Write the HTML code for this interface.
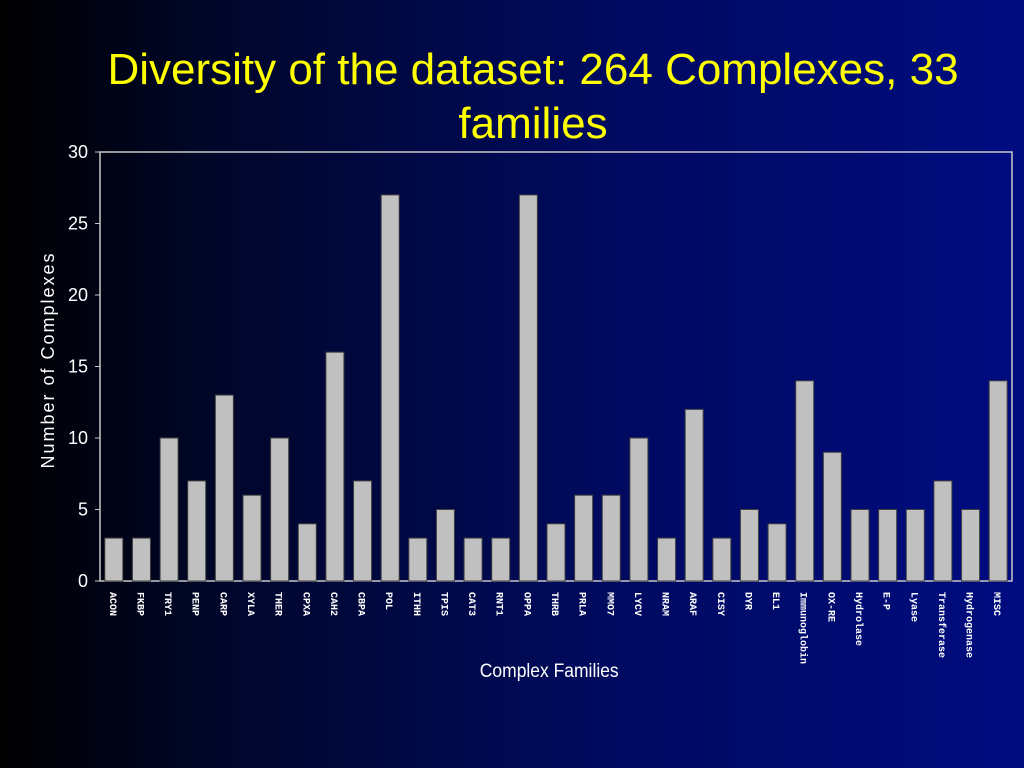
<!DOCTYPE html>
<html><head><meta charset="utf-8"><style>
body{margin:0;width:1024px;height:768px;overflow:hidden;background:linear-gradient(90deg,#000000 0%,#000628 20%,#000a60 60%,#000c80 100%);font-family:"Liberation Sans",sans-serif}
svg{position:absolute;left:0;top:0}
</style></head><body>
<svg width="1024" height="768">
<text x="533" y="84" fill="#ffff00" font-size="44" text-anchor="middle">Diversity of the dataset: 264 Complexes, 33</text>
<text x="533" y="138" fill="#ffff00" font-size="44" text-anchor="middle">families</text>
<rect x="100" y="152" width="912" height="429" fill="none" stroke="#c8c8c8" stroke-width="1.5"/>
<g id="yaxis"></g><g id="bars"></g><g id="xlabels"></g>
<text transform="translate(54,360) rotate(-90)" fill="#fff" font-size="18" text-anchor="middle" letter-spacing="2">Number of Complexes</text>
<text x="550" y="677" fill="#fff" font-size="19" text-anchor="middle" transform="scale(0.92,1) translate(47,0)">Complex Families</text>
</svg>
<script>
const categories=["ACON","FKBP","TRY1","PENP","CARP","XYLA","THER","CPXA","CAH2","CBPA","POL","ITHH","TPIS","CAT3","RNT1","OPPA","THRB","PRLA","MMO7","LYCV","NRAM","ARAF","CISY","DYR","EL1","Immunoglobin","OX-RE","Hydrolase","E-P","Lyase","Transferase","Hydrogenase","MISC"];
const values=[3,3,10,7,13,6,10,4,16,7,27,3,5,3,3,27,4,6,6,10,3,12,3,5,4,14,9,5,5,5,7,5,14];
const yTicks=[0,5,10,15,20,25,30];
const NS="http://www.w3.org/2000/svg";
const X0=100,X1=1012,Y0=581,Y1=152,YMAX=30;
const y=v=>Y0-(Y0-Y1)*v/YMAX;
const step=(X1-X0)/categories.length;
const xc=i=>X0+step*(i+0.5);
const ya=document.getElementById('yaxis'),bg=document.getElementById('bars'),xl=document.getElementById('xlabels');
yTicks.forEach(t=>{
 const tx=document.createElementNS(NS,'text');
 
 
 tx.setAttribute('x',88);tx.setAttribute('y',y(t)+6);tx.setAttribute('fill','#fff');tx.setAttribute('font-size','18');tx.setAttribute('text-anchor','end');
 tx.textContent=t;ya.appendChild(tx);
 const l=document.createElementNS(NS,'line');
 
 
 l.setAttribute('x1',95);l.setAttribute('x2',100);l.setAttribute('y1',y(t));l.setAttribute('y2',y(t));l.setAttribute('stroke','#c8c8c8');
 ya.appendChild(l);
});
categories.forEach((c,i)=>{
 const r=document.createElementNS(NS,'rect');
 
 
 const w=18;
 r.setAttribute('x',xc(i)-w/2);r.setAttribute('y',y(values[i]));r.setAttribute('width',w);r.setAttribute('height',Y0-y(values[i]));
 r.setAttribute('fill','#c0c0c0');r.setAttribute('stroke','#404040');r.setAttribute('stroke-width','1');
 bg.appendChild(r);
 const t=document.createElementNS(NS,'text');
 
 
 t.setAttribute('transform','translate('+(xc(i)-4)+',592) rotate(90)');
 t.setAttribute('fill','#fff');t.setAttribute('font-size','10');t.setAttribute('font-weight','bold');t.setAttribute('font-family','Liberation Mono, monospace');
 t.textContent=c;xl.appendChild(t);
});
</script>
</body></html>
